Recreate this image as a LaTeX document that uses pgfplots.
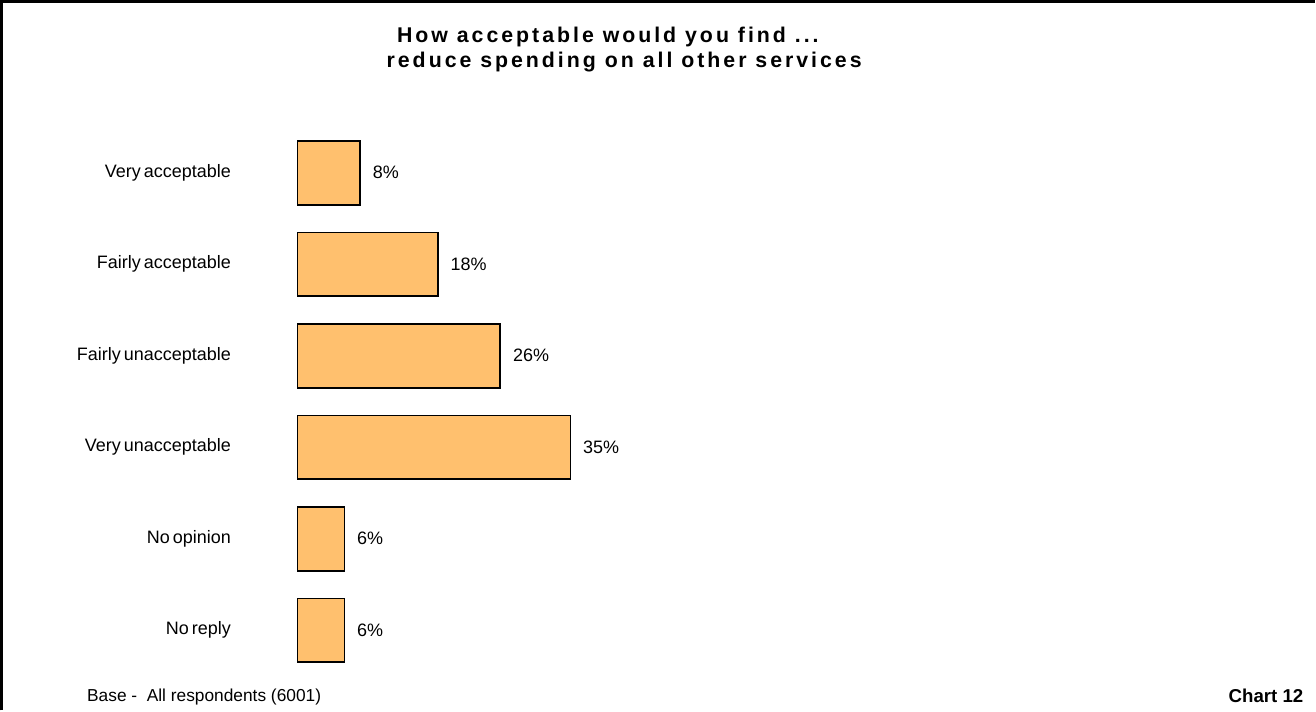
\documentclass[border=0pt]{standalone}
\usepackage{pgfplots}
\pgfplotsset{compat=1.18}
\usepackage{fontspec}
\setmainfont{Liberation Sans}
\newfontfamily\labelfont[WordSpace=0.6]{Liberation Sans}
\newfontfamily\titlefont[LetterSpace=14]{Liberation Sans}
\definecolor{barfill}{RGB}{255,192,110}

\begin{document}
\begin{tikzpicture}
\begin{axis}[
  scale only axis, width=204.75pt, height=412.2pt,
  xbar, bar width=48pt,
  xmin=0, xmax=35,
  ymin=-0.5, ymax=5.5,
  ytick={0,...,5},
  yticklabels={No reply, No opinion, Very unacceptable, Fairly unacceptable, Fairly acceptable, Very acceptable},
  yticklabel style={font=\labelfont\fontsize{13.5}{16}\selectfont, anchor=east, inner sep=0pt, xshift=-50pt},
  xtick=\empty,
  axis line style={draw=none},
  major tick length=0pt,
  clip=false,
  /pgf/number format/assume math mode=true,
  nodes near coords={\pgfmathprintnumber{\pgfplotspointmeta}\%},
  nodes near coords style={font=\fontsize{13.5}{16}\selectfont, anchor=west, inner sep=0pt, xshift=9pt},
  point meta=x,
]
\addplot[fill=barfill, draw=black, line width=1.2pt] coordinates {(6,0) (6,1) (35,2) (26,3) (18,4) (8,5)};
% page extent (1316 x 711 px) in axis units
\path (axis cs:-38.205,-0.8755) rectangle (axis cs:130.51,6.8886);
\draw[line width=2.2pt] (axis cs:-38.02,-0.8755) -- (axis cs:-38.02,6.8726) -- (axis cs:130.51,6.8726);
\node[anchor=base, inner sep=0pt, font=\titlefont\bfseries\fontsize{16}{18}\selectfont] at (axis cs:39.8,6.419) {How acceptable would you find ...};
\node[anchor=base, inner sep=0pt, font=\titlefont\bfseries\fontsize{16}{18}\selectfont] at (axis cs:41.9,6.150) {reduce spending on all other services};
\node[anchor=base west, inner sep=0pt, font=\fontsize{13}{16}\selectfont] at (axis cs:-27.05,-0.775) {Base -\ \ All respondents (6001)};
\node[anchor=base east, inner sep=0pt, font=\bfseries\fontsize{14}{18}\selectfont] at (axis cs:129.1,-0.786) {Chart 12};
\end{axis}
\end{tikzpicture}
\end{document}
